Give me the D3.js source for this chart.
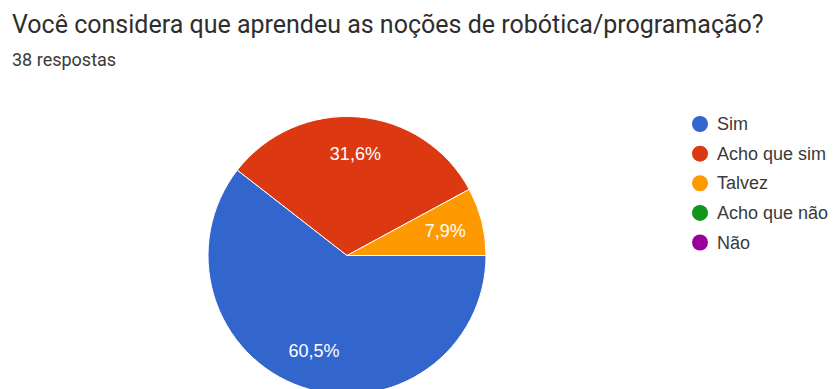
<!DOCTYPE html>
<html>
<head>
<meta charset="utf-8">
<script src="https://cdn.jsdelivr.net/npm/d3@7"></script>
<style>
  html, body { margin: 0; padding: 0; background: #fff; overflow: hidden; }
  svg { display: block; }
</style>
</head>
<body>
<svg id="chart" width="835" height="389"></svg>
<script>
// Survey answers (38 responses)
const categories = ["Sim", "Acho que sim", "Talvez", "Acho que não", "Não"];
const counts = [23, 12, 3, 0, 0];
const colors = ["#3366cc", "#dc3912", "#ff9900", "#109618", "#990099"];
const title = "Você considera que aprendeu as noções de robótica/programação?";
const subtitle = "38 respostas";

const total = d3.sum(counts);
const data = categories.map((c, i) => ({ name: c, value: counts[i], color: colors[i] }));

const svg = d3.select("#chart");

// Header
svg.append("text")
  .attr("x", 12).attr("y", 33)
  .attr("font-family", "Roboto, 'Open Sans', sans-serif")
  .attr("font-size", 25)
  .attr("fill", "#2e2e2e")
  .text(title);

svg.append("text")
  .attr("x", 12).attr("y", 66)
  .attr("font-family", "Roboto, sans-serif")
  .attr("font-size", 18)
  .attr("fill", "#3a3a3a")
  .text(subtitle);

// Pie: first slice starts at 3 o'clock, drawn clockwise
const cx = 347, cy = 255.5, radius = 139;
const pie = d3.pie()
  .value(d => d.value)
  .sort(null)
  .startAngle(Math.PI / 2)
  .endAngle(Math.PI / 2 + 2 * Math.PI);

const arcs = pie(data).filter(d => d.value > 0);
const arc = d3.arc().innerRadius(0).outerRadius(radius);
const labelArc = d3.arc().innerRadius(radius * 0.73).outerRadius(radius * 0.73);

const g = svg.append("g").attr("transform", `translate(${cx},${cy})`);

g.selectAll("path.slice")
  .data(arcs)
  .join("path")
  .attr("class", "slice")
  .attr("d", arc)
  .attr("fill", d => d.data.color)
  .attr("stroke", "#ffffff")
  .attr("stroke-width", 1);

const fmt = v => (v * 100).toFixed(1).replace(".", ",") + "%";

g.selectAll("text.pct")
  .data(arcs)
  .join("text")
  .attr("class", "pct")
  .attr("transform", d => `translate(${labelArc.centroid(d)})`)
  .attr("text-anchor", "middle")
  .attr("dominant-baseline", "central")
  .attr("font-family", "'Liberation Sans', Arial, sans-serif")
  .attr("font-size", 18)
  .attr("fill", "#ffffff")
  .text(d => fmt(d.data.value / total));

// Legend
const legendY = d3.scalePoint()
  .domain(categories)
  .range([124, 242.5]);

const legend = svg.append("g");
const items = legend.selectAll("g.item")
  .data(data)
  .join("g")
  .attr("class", "item")
  .attr("transform", d => `translate(700,${legendY(d.name)})`);

items.append("circle")
  .attr("r", 8)
  .attr("fill", d => d.color);

items.append("text")
  .attr("x", 17)
  .attr("dominant-baseline", "central")
  .attr("font-family", "'Liberation Sans', Arial, sans-serif")
  .attr("font-size", 18)
  .attr("fill", "#3a3a3a")
  .text(d => d.name);
</script>
</body>
</html>
